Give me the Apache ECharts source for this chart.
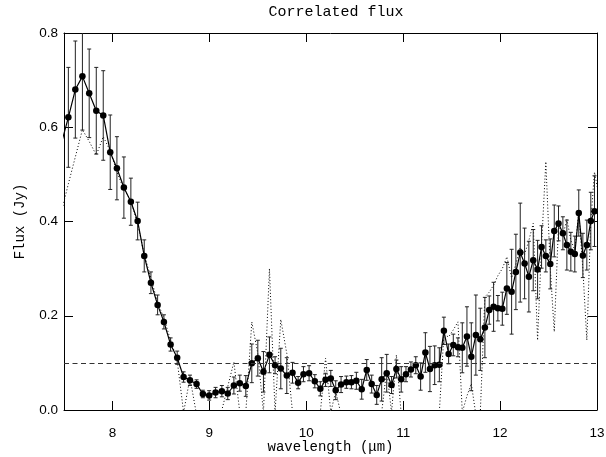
<!DOCTYPE html>
<html>
<head>
<meta charset="utf-8">
<script src="https://cdn.jsdelivr.net/npm/echarts@6/dist/echarts.min.js"></script>
<style>html,body{margin:0;padding:0;background:#fff;}#c{width:606px;height:457px;}</style>
</head>
<body>
<div id="c"></div>
<script>
// ---- data ----
const wavelength = [7.473,7.545,7.617,7.690,7.760,7.833,7.905,7.977,8.046,8.118,8.190,8.260,8.328,8.397,8.466,8.531,8.600,8.668,8.734,8.800,8.868,8.933,8.998,9.064,9.129,9.190,9.253,9.314,9.376,9.438,9.500,9.558,9.620,9.678,9.737,9.799,9.858,9.916,9.971,10.029,10.088,10.145,10.199,10.253,10.304,10.359,10.414,10.466,10.517,10.572,10.624,10.675,10.727,10.778,10.830,10.880,10.930,10.980,11.029,11.080,11.130,11.180,11.229,11.276,11.325,11.373,11.420,11.469,11.517,11.565,11.610,11.658,11.703,11.750,11.796,11.843,11.888,11.933,11.977,12.023,12.070,12.119,12.163,12.208,12.253,12.297,12.342,12.387,12.428,12.472,12.518,12.559,12.603,12.648,12.689,12.730,12.771,12.812,12.854,12.895,12.936,12.974];
const flux = [0.566,0.621,0.680,0.708,0.672,0.635,0.625,0.547,0.513,0.472,0.442,0.401,0.327,0.270,0.223,0.187,0.139,0.111,0.070,0.063,0.055,0.034,0.031,0.037,0.040,0.035,0.052,0.057,0.051,0.099,0.110,0.081,0.117,0.095,0.088,0.073,0.079,0.058,0.076,0.078,0.061,0.045,0.064,0.067,0.042,0.054,0.059,0.059,0.062,0.044,0.085,0.055,0.032,0.065,0.078,0.053,0.087,0.065,0.076,0.086,0.095,0.071,0.122,0.087,0.095,0.096,0.168,0.119,0.138,0.133,0.132,0.156,0.113,0.159,0.150,0.175,0.212,0.219,0.216,0.215,0.258,0.251,0.293,0.334,0.311,0.283,0.318,0.298,0.346,0.327,0.310,0.380,0.396,0.375,0.350,0.336,0.331,0.418,0.328,0.350,0.401,0.422];
const fluxErr = [0.100,0.106,0.103,0.114,0.094,0.092,0.095,0.079,0.067,0.065,0.050,0.040,0.034,0.023,0.021,0.015,0.014,0.014,0.011,0.011,0.009,0.008,0.010,0.011,0.012,0.013,0.018,0.017,0.022,0.041,0.038,0.043,0.038,0.018,0.043,0.038,0.022,0.013,0.016,0.016,0.014,0.015,0.014,0.017,0.020,0.017,0.013,0.014,0.018,0.021,0.022,0.019,0.020,0.046,0.040,0.018,0.019,0.027,0.016,0.016,0.018,0.029,0.042,0.048,0.041,0.036,0.029,0.021,0.023,0.020,0.053,0.063,0.072,0.085,0.066,0.064,0.030,0.052,0.027,0.035,0.055,0.090,0.080,0.105,0.075,0.075,0.065,0.062,0.045,0.034,0.053,0.055,0.037,0.035,0.053,0.041,0.038,0.049,0.047,0.053,0.061,0.075];
const dottedWave = wavelength.concat([13.015]);
const dottedFlux = [0.420,0.480,0.537,0.595,0.570,0.541,0.580,0.550,0.505,0.468,0.445,0.395,0.330,0.280,0.228,0.195,0.148,0.105,-0.005,0.068,-0.010,-0.040,-0.050,-0.030,0.000,0.050,0.102,-0.005,-0.005,0.187,0.120,-0.005,0.300,-0.005,0.192,0.120,-0.005,-0.030,-0.040,-0.040,-0.030,-0.005,0.110,-0.005,0.040,-0.010,-0.040,-0.050,-0.050,-0.040,-0.030,-0.030,-0.020,-0.005,0.085,-0.005,0.117,-0.010,-0.040,-0.050,-0.050,-0.050,-0.050,-0.040,-0.030,-0.005,0.160,0.155,0.170,0.187,-0.005,0.030,0.056,-0.010,-0.005,0.240,0.250,0.265,0.285,0.300,0.325,0.280,0.310,0.345,0.330,0.360,0.396,0.148,0.350,0.527,0.300,0.166,0.392,0.370,0.405,0.360,0.340,0.420,0.300,0.148,0.400,0.505,0.460];
const refLevel = 0.1;
const xTicks = [8, 9, 10, 11, 12, 13];
const yTicks = [0, 0.2, 0.4, 0.6, 0.8];

const mainPts = wavelength.map((w, i) => [w, flux[i]]);
const errPts = wavelength.map((w, i) => [w, flux[i], fluxErr[i]]);
const dotPts = dottedWave.map((w, i) => [w, dottedFlux[i]]);

const chart = echarts.init(document.getElementById('c'), null, {renderer: 'canvas'});
const axisCommon = {
  axisLine: {show: true, onZero: false, lineStyle: {color: '#000', width: 1}},
  splitLine: {show: false}
};
const serif = 'Liberation Mono';
const option = {
  backgroundColor: '#fff',
  animation: false,
  title: {
    text: 'Correlated flux', left: 331, top: 0, textAlign: 'center',
    textStyle: {fontFamily: serif, fontSize: 15, fontWeight: 'normal', color: '#000'}
  },
  grid: {left: 64, right: 9, top: 33, bottom: 47, containLabel: false, outerBoundsMode: 'none'},
  xAxis: [
    Object.assign({}, axisCommon, {
      type: 'value', min: 7.5, max: 13, position: 'bottom',
      axisTick: {show: true, inside: true, length: 9, customValues: xTicks, lineStyle: {color: '#000'}},
      axisLabel: {customValues: xTicks, margin: 16, color: '#000', fontFamily: 'Liberation Sans', fontSize: 13.5},
      name: 'wavelength (μm)', nameLocation: 'middle', nameGap: 30, nameMoveOverlap: false,
      nameTextStyle: {fontFamily: serif, fontSize: 14, color: '#000'}
    }),
    Object.assign({}, axisCommon, {
      type: 'value', min: 7.5, max: 13, position: 'top',
      axisTick: {show: true, inside: true, length: 9, customValues: xTicks, lineStyle: {color: '#000'}},
      axisLabel: {show: false}
    })
  ],
  yAxis: [
    Object.assign({}, axisCommon, {
      type: 'value', min: 0, max: 0.8, position: 'left',
      axisTick: {show: true, inside: true, length: 9, customValues: yTicks, lineStyle: {color: '#000'}},
      axisLabel: {customValues: yTicks, margin: 6, color: '#000', fontFamily: 'Liberation Sans', fontSize: 13.5,
        formatter: v => Number(v).toFixed(1)},
      name: 'Flux (Jy)', nameLocation: 'middle', nameGap: 37, nameRotate: 90, nameMoveOverlap: false,
      nameTextStyle: {fontFamily: serif, fontSize: 14, color: '#000'}
    }),
    Object.assign({}, axisCommon, {
      type: 'value', min: 0, max: 0.8, position: 'right',
      axisTick: {show: true, inside: true, length: 9, customValues: yTicks, lineStyle: {color: '#000'}},
      axisLabel: {show: false}
    })
  ],
  series: [
    {
      type: 'line', data: dotPts, xAxisIndex: 0, yAxisIndex: 0, clip: true,
      showSymbol: false, symbol: 'none',
      lineStyle: {color: '#000', width: 1, type: [1, 2.2]},
      markLine: {
        silent: true, symbol: 'none', label: {show: false},
        lineStyle: {color: '#333', width: 1, type: [5, 3.5]},
        data: [{yAxis: refLevel}]
      },
      z: 1
    },
    {
      type: 'custom', data: errPts, xAxisIndex: 0, yAxisIndex: 0, clip: true,
      encode: {x: 0, y: 1},
      renderItem: function (params, api) {
        const x = api.value(0), y = api.value(1), e = api.value(2);
        const t = api.coord([x, y + e]);
        const b = api.coord([x, y - e]);
        const cap = 2;
        const st = {stroke: '#222', lineWidth: 1};
        return {type: 'group', children: [
          {type: 'line', shape: {x1: t[0], y1: t[1], x2: b[0], y2: b[1]}, style: st},
          {type: 'line', shape: {x1: t[0] - cap, y1: t[1], x2: t[0] + cap, y2: t[1]}, style: st},
          {type: 'line', shape: {x1: b[0] - cap, y1: b[1], x2: b[0] + cap, y2: b[1]}, style: st}
        ]};
      },
      z: 2
    },
    {
      type: 'line', data: mainPts, xAxisIndex: 0, yAxisIndex: 0, clip: true,
      symbol: 'circle', symbolSize: 6.5, showSymbol: true,
      itemStyle: {color: '#000'},
      lineStyle: {color: '#000', width: 1.2},
      z: 3
    }
  ]
};
chart.setOption(option);
</script>
</body>
</html>
